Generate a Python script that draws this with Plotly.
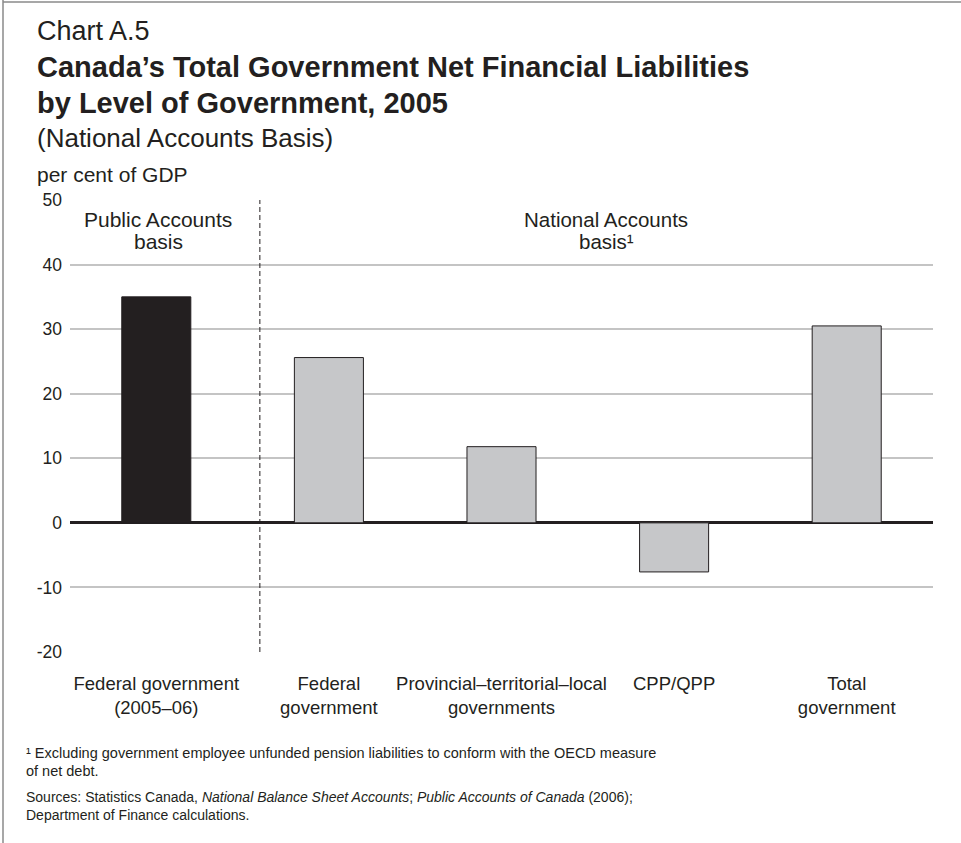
import plotly.graph_objects as go

# --- data -------------------------------------------------------------
categories = [
    "Federal government<br>(2005–06)",
    "Federal<br>government",
    "Provincial–territorial–local<br>governments",
    "CPP/QPP",
    "Total<br>government",
]
values = [35.0, 25.6, 11.8, -7.6, 30.5]
bar_colors = ["#231f20", "#c6c7c9", "#c6c7c9", "#c6c7c9", "#c6c7c9"]
y_ticks = [-20, -10, 0, 10, 20, 30, 40, 50]
y_tick_text = ["-20", "-10", "0", "10", "20", "30", "40", "50"]

title_lines = [
    "Canada’s Total Government Net Financial Liabilities",
    "by Level of Government, 2005",
]
chart_label = "Chart A.5"
subtitle = "(National Accounts Basis)"
y_unit = "per cent of GDP"
public_header = ["Public Accounts", "basis"]
national_header = ["National Accounts", "basis¹"]
footnotes = [
    "¹ Excluding government employee unfunded pension liabilities to conform with the OECD measure",
    "of net debt.",
]
sources = [
    "Sources: Statistics Canada, <i>National Balance Sheet Accounts</i>; <i>Public Accounts of Canada</i> (2006);",
    "Department of Finance calculations.",
]

# --- layout geometry (pixels) -----------------------------------------
W, H = 961, 843
L, R, T, B = 70, 28, 200, 191
PW, PH = W - L - R, H - T - B
INK = "#231f20"
FONT = "Liberation Sans, Arial, Helvetica, sans-serif"


def px(x):
    return (x - L) / PW


def py(y):
    return (H - B - y) / PH


fig = go.Figure(
    go.Bar(
        x=list(range(len(categories))),
        y=values,
        width=0.4,
        marker=dict(color=bar_colors, line=dict(color=INK, width=1)),
        hoverinfo="skip",
    )
)

fig.update_layout(
    width=W,
    height=H,
    margin=dict(l=L, r=R, t=T, b=B, pad=0),
    paper_bgcolor="white",
    plot_bgcolor="white",
    showlegend=False,
    font=dict(family=FONT, color=INK, size=17),
)

fig.update_xaxes(
    range=[-0.5, len(categories) - 0.5],
    tickmode="array",
    tickvals=list(range(len(categories))),
    ticktext=categories,
    showgrid=False,
    zeroline=False,
    showline=False,
    ticks="",
    ticklabelstandoff=18,
    tickfont=dict(size=18.5, color=INK),
)

fig.update_yaxes(
    range=[-20, 50],
    tickmode="array",
    tickvals=y_ticks,
    ticktext=y_tick_text,
    showgrid=True,
    gridcolor="#c4c4c4",
    gridwidth=1.5,
    zeroline=True,
    zerolinecolor=INK,
    zerolinewidth=3,
    showline=False,
    ticks="",
    ticklabelstandoff=7,
    tickfont=dict(size=17.5, color=INK),
)

# dashed separator between the two accounting bases
fig.add_shape(
    type="line", xref="x", yref="y",
    x0=0.6, x1=0.6, y0=-20, y1=50,
    line=dict(color=INK, width=1, dash="5px,3px"),
)

# frame lines at the top and left edge of the page
fig.add_shape(type="line", xref="paper", yref="paper",
              x0=px(3), x1=px(W + 5), y0=py(2), y1=py(2),
              line=dict(color="#8a8a8a", width=1.5))
fig.add_shape(type="line", xref="paper", yref="paper",
              x0=px(3), x1=px(3), y0=py(-5), y1=py(H + 5),
              line=dict(color="#8a8a8a", width=1.5))

ann = []


def text(x, y, s, size, bold=False, anchor="left"):
    ann.append(dict(
        x=px(x), y=py(y), xref="paper", yref="paper",
        xanchor=anchor, yanchor="middle", showarrow=False,
        text=f"<b>{s}</b>" if bold else s,
        font=dict(family=FONT, size=size, color=INK),
        align=anchor,
    ))


text(35, 31, chart_label, 27)
text(35, 67.5, title_lines[0], 29, bold=True)
text(35, 103, title_lines[1], 29, bold=True)
text(35, 138, subtitle, 26)
text(35, 174, y_unit, 21)

# section headers inside the plot
text(158, 220, public_header[0], 21, anchor="center")
text(158, 241, public_header[1], 21, anchor="center")
text(606, 220, national_header[0], 20.5, anchor="center")
text(606, 241, national_header[1], 20.5, anchor="center")

text(24, 753, footnotes[0], 14.5)
text(24, 771, footnotes[1], 14.5)
text(24, 797, sources[0], 14)
text(24, 815, sources[1], 14)

fig.update_layout(annotations=ann)

fig.write_html("out.html")
